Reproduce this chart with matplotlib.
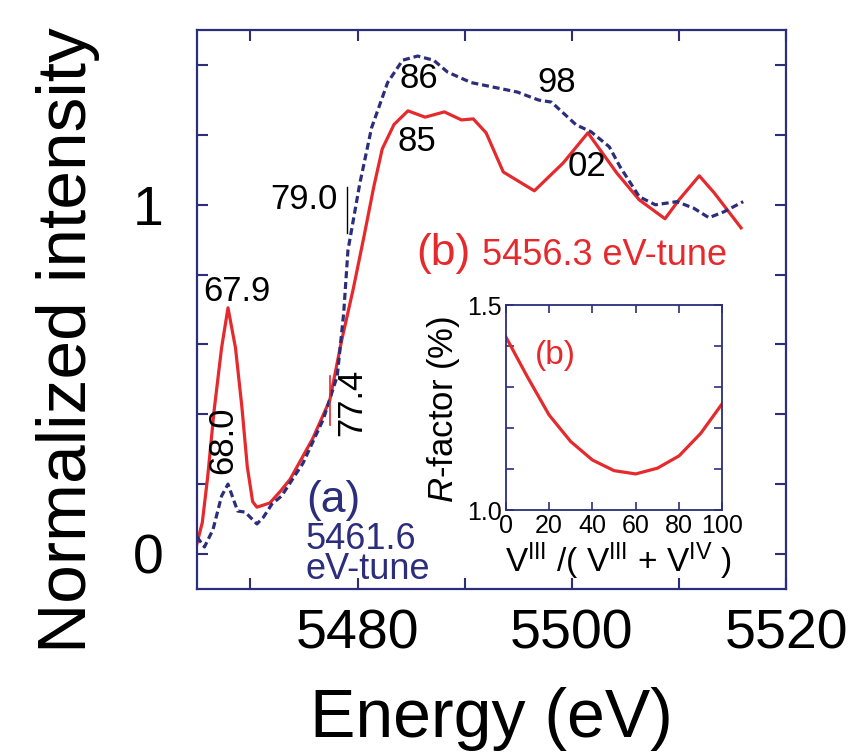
import matplotlib
matplotlib.use('Agg')
import matplotlib.pyplot as plt
import numpy as np

plt.rcParams['font.family'] = ['Liberation Sans', 'DejaVu Sans']
plt.rcParams['mathtext.fontset'] = 'custom'
plt.rcParams['mathtext.rm'] = 'Liberation Sans'
plt.rcParams['mathtext.it'] = 'Liberation Sans:italic'

# (b) 5456.3 eV-tune spectrum (red)
energy_b = [5465.0, 5465.5, 5466.0, 5466.6, 5467.3, 5467.9, 5468.6, 5469.2, 5469.7, 5470.2,
            5470.6, 5471.8, 5472.8, 5473.7, 5475.8, 5477.4, 5478.5, 5479.6, 5480.6, 5481.5,
            5482.3, 5483.4, 5484.7, 5486.3, 5488.1, 5489.7, 5490.8, 5492.0, 5493.6, 5496.5,
            5499.2, 5501.5, 5504.2, 5506.3, 5508.7, 5510.0, 5511.9, 5513.3, 5515.8]
inten_b = [0.03, 0.09, 0.22, 0.41, 0.59, 0.705, 0.59, 0.42, 0.25, 0.15,
           0.134, 0.146, 0.18, 0.214, 0.33, 0.44, 0.61, 0.76, 0.91, 1.05,
           1.16, 1.23, 1.269, 1.251, 1.266, 1.243, 1.246, 1.206, 1.094, 1.04,
           1.12, 1.206, 1.091, 1.014, 0.96, 1.014, 1.083, 1.034, 0.934]

# (a) 5461.6 eV-tune spectrum (blue dashed)
energy_a = [5465.0, 5465.7, 5466.5, 5467.3, 5467.9, 5468.4, 5468.8, 5469.5, 5470.6, 5471.2,
            5472.0, 5472.9, 5474.9, 5476.8, 5478.1, 5478.7, 5479.1, 5480.2, 5481.3, 5482.8,
            5484.2, 5485.6, 5487.1, 5488.4, 5490.6, 5494.9, 5496.9, 5498.1, 5500.4, 5501.8,
            5503.5, 5504.5, 5506.3, 5507.8, 5509.8, 5511.4, 5512.8, 5514.2, 5516.0]
inten_a = [0.049, 0.02, 0.07, 0.166, 0.2, 0.157, 0.123, 0.12, 0.086, 0.105,
           0.143, 0.166, 0.26, 0.386, 0.51, 0.69, 0.87, 1.06, 1.22, 1.35,
           1.414, 1.426, 1.414, 1.38, 1.35, 1.323, 1.3, 1.294, 1.229, 1.209,
           1.166, 1.109, 1.023, 1.0, 1.009, 0.99, 0.963, 0.98, 1.009]

# inset: R-factor vs V(III) fraction
frac = [0, 10, 20, 30, 40, 50, 60, 70, 80, 90, 100]
rfac = [1.423, 1.325, 1.232, 1.167, 1.122, 1.096, 1.088, 1.102, 1.132, 1.187, 1.26]

red = '#e52a2d'
navy = '#2c2e7c'

fig = plt.figure(figsize=(8.6, 7.55), dpi=100)
ax = fig.add_axes([0.229, 0.22, 0.685, 0.740])

ax.plot(energy_b, inten_b, color=red, lw=2.3)
ax.plot(energy_a, inten_a, color=navy, lw=2.3, linestyle=(0, (2.2, 1.2)))

ax.set_xlim(5465, 5520)
ax.set_ylim(-0.1, 1.5)
ax.set_xticks(np.arange(5470, 5520, 10), minor=True)
ax.set_xticks([5480, 5500, 5520])
ax.set_yticks(np.arange(0.2, 1.5, 0.2), minor=True)
ax.set_yticks([0, 1])
ax.set_yticklabels(['0', '1'])
for s in ax.spines.values():
    s.set_color(navy)
    s.set_linewidth(1.6)
ax.tick_params(which='both', direction='in', top=True, right=True, color=navy,
               length=8, width=1.5, labelsize=40)
ax.tick_params(axis='y', pad=24)
ax.tick_params(axis='x', pad=14)
ax.set_xlabel('Energy (eV)', fontsize=49, labelpad=19)
ax.set_ylabel('Normalized intensity', fontsize=50)
ax.yaxis.set_label_coords(-0.165, 0.446)

# annotations
ax.text(5468.7, 0.751, '67.9', fontsize=25, ha='center', va='center')
ax.text(5467.4, 0.326, '68.0', fontsize=25, ha='center', va='center', rotation=90)
ax.text(5479.5, 0.434, '77.4', fontsize=25, ha='center', va='center', rotation=90)
ax.plot([5477.4, 5477.4], [0.37, 0.51], color=red, lw=1.2)
ax.text(5478.1, 1.014, '79.0', fontsize=25, ha='right', va='center')
ax.plot([5479.0, 5479.0], [0.92, 1.05], color='black', lw=1.0)
ax.text(5485.7, 1.363, '86', fontsize=25, ha='center', va='center')
ax.text(5498.6, 1.349, '98', fontsize=25, ha='center', va='center')
ax.text(5485.5, 1.18, '85', fontsize=25, ha='center', va='center')
ax.text(5501.4, 1.109, '02', fontsize=25, ha='center', va='center')

ax.text(5485.5, 0.829, '(b)', fontsize=32, color=red, ha='left', va='baseline')
ax.text(5491.6, 0.829, '5456.3 eV-tune', fontsize=26, color=red, ha='left', va='baseline')
ax.text(5475.2, 0.12, '(a)', fontsize=32, color=navy, ha='left', va='baseline')
ax.text(5475.1, 0.093, '5461.6\neV-tune', fontsize=26, color=navy, ha='left', va='top',
        linespacing=0.82)

# inset
axin = fig.add_axes([0.588, 0.3245, 0.252, 0.2715])
axin.plot(frac, rfac, color=red, lw=2.3)
axin.set_xlim(0, 100)
axin.set_ylim(1.0, 1.5)
axin.set_xticks(np.arange(0, 101, 20))
axin.set_yticks(np.arange(1.1, 1.45, 0.1), minor=True)
axin.set_yticks([1.0, 1.5])
axin.set_yticklabels(['1.0', '1.5'])
for s in axin.spines.values():
    s.set_color(navy)
    s.set_linewidth(1.3)
axin.tick_params(which='both', direction='in', top=True, right=True, color=navy,
                 length=6, width=1.2, labelsize=18)
axin.tick_params(axis='y', pad=3)
axin.tick_params(axis='x', pad=3)
axin.set_xlabel(r'V$^{\rm III}$ /( V$^{\rm III}$ + V$^{\rm IV}$ )', fontsize=24)
axin.xaxis.set_label_coords(0.52, -0.15)
axin.set_ylabel(r'$\it{R}$-factor (%)', fontsize=25)
axin.yaxis.set_label_coords(-0.2, 0.49)
axin.text(13.4, 1.378, '(b)', fontsize=24, color=red, ha='left', va='center')

fig.savefig('out.png', dpi=100)
